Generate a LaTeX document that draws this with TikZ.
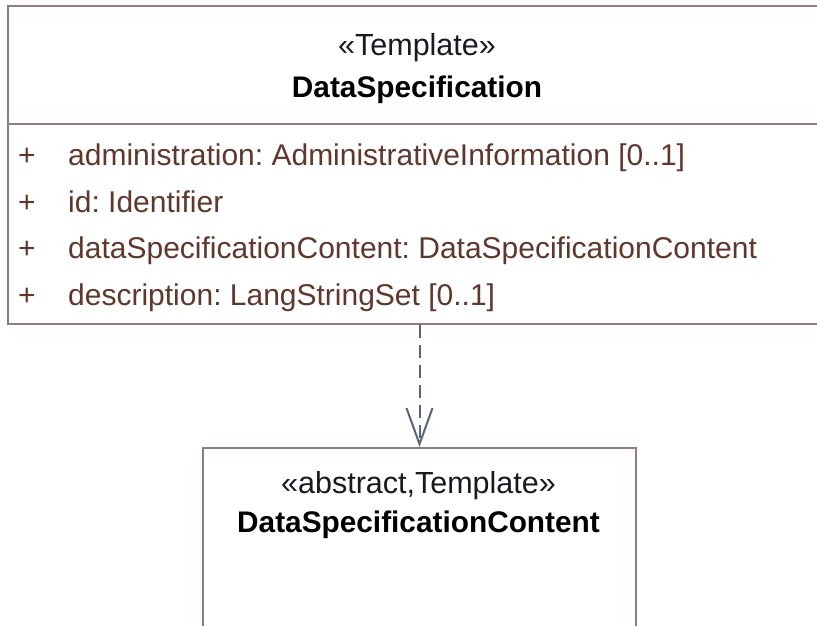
\documentclass[tikz,border=0pt]{standalone}
\usepackage{fontspec}
\setmainfont{Liberation Sans}
\frenchspacing
\usetikzlibrary{arrows.meta,positioning}
\definecolor{umlFrame}{RGB}{145,125,125}
\definecolor{attrBrown}{RGB}{95,55,45}
\definecolor{stereoInk}{RGB}{25,25,35}
\definecolor{realizeGray}{RGB}{90,100,125}
\tikzset{
  compartment/.style={draw=umlFrame, line width=2pt, inner sep=0pt, anchor=north west},
  stereo/.style={anchor=base, inner sep=0pt, text=stereoInk, font=\fontsize{30.5}{35}\selectfont},
  classname/.style={anchor=base, inner sep=0pt, font=\bfseries\fontsize{29.8}{35}\selectfont},
  vis/.style={anchor=base west, inner sep=0pt, text=attrBrown, font=\fontsize{30}{35}\selectfont},
  attr/.style={anchor=base west, inner sep=0pt, text=attrBrown, font=\fontsize{30}{35}\selectfont},
  realize/.style={-{Straight Barb[length=36pt,width=26pt]}, line width=2pt, dash pattern=on 13pt off 7pt, color=realizeGray}
}

\begin{document}
\begin{tikzpicture}[x=1pt, y=-1pt]
  \useasboundingbox[fill=white] (0,0) rectangle (817,625);
  \node[compartment, minimum width=821pt, minimum height=118pt] (spechead) at (7,5) {};
  \node[compartment, minimum width=821pt, minimum height=200pt] (specattr) at (7,123) {};
  \node[stereo] (specstereo) at (417,55) {«Template»};
  \node[classname] (specname) at (417,97) {DataSpecification};
  \node[vis] (vis1) at (18,165) {+};
  \node[attr] (attr1) at (68,165) {administration: AdministrativeInformation [0..1]};
  \node[vis] (vis2) at (18,212) {+};
  \node[attr] (attr2) at (68,212) {id: Identifier};
  \node[vis] (vis3) at (18,258) {+};
  \node[attr] (attr3) at (68,258) {dataSpecificationContent: DataSpecificationContent};
  \node[vis] (vis4) at (18,305) {+};
  \node[attr] (attr4) at (68,305) {description: LangStringSet [0..1]};

  \node[compartment, minimum width=433pt, minimum height=260pt] (content) at (202,447) {};
  \node[stereo] (contentstereo) at (418.5,493) {«abstract,Template»};
  \node[classname] (contentname) at (418.5,532) {DataSpecificationContent};

  \draw[realize] (content.north |- specattr.south) -- (content.north);
\end{tikzpicture}
\end{document}
